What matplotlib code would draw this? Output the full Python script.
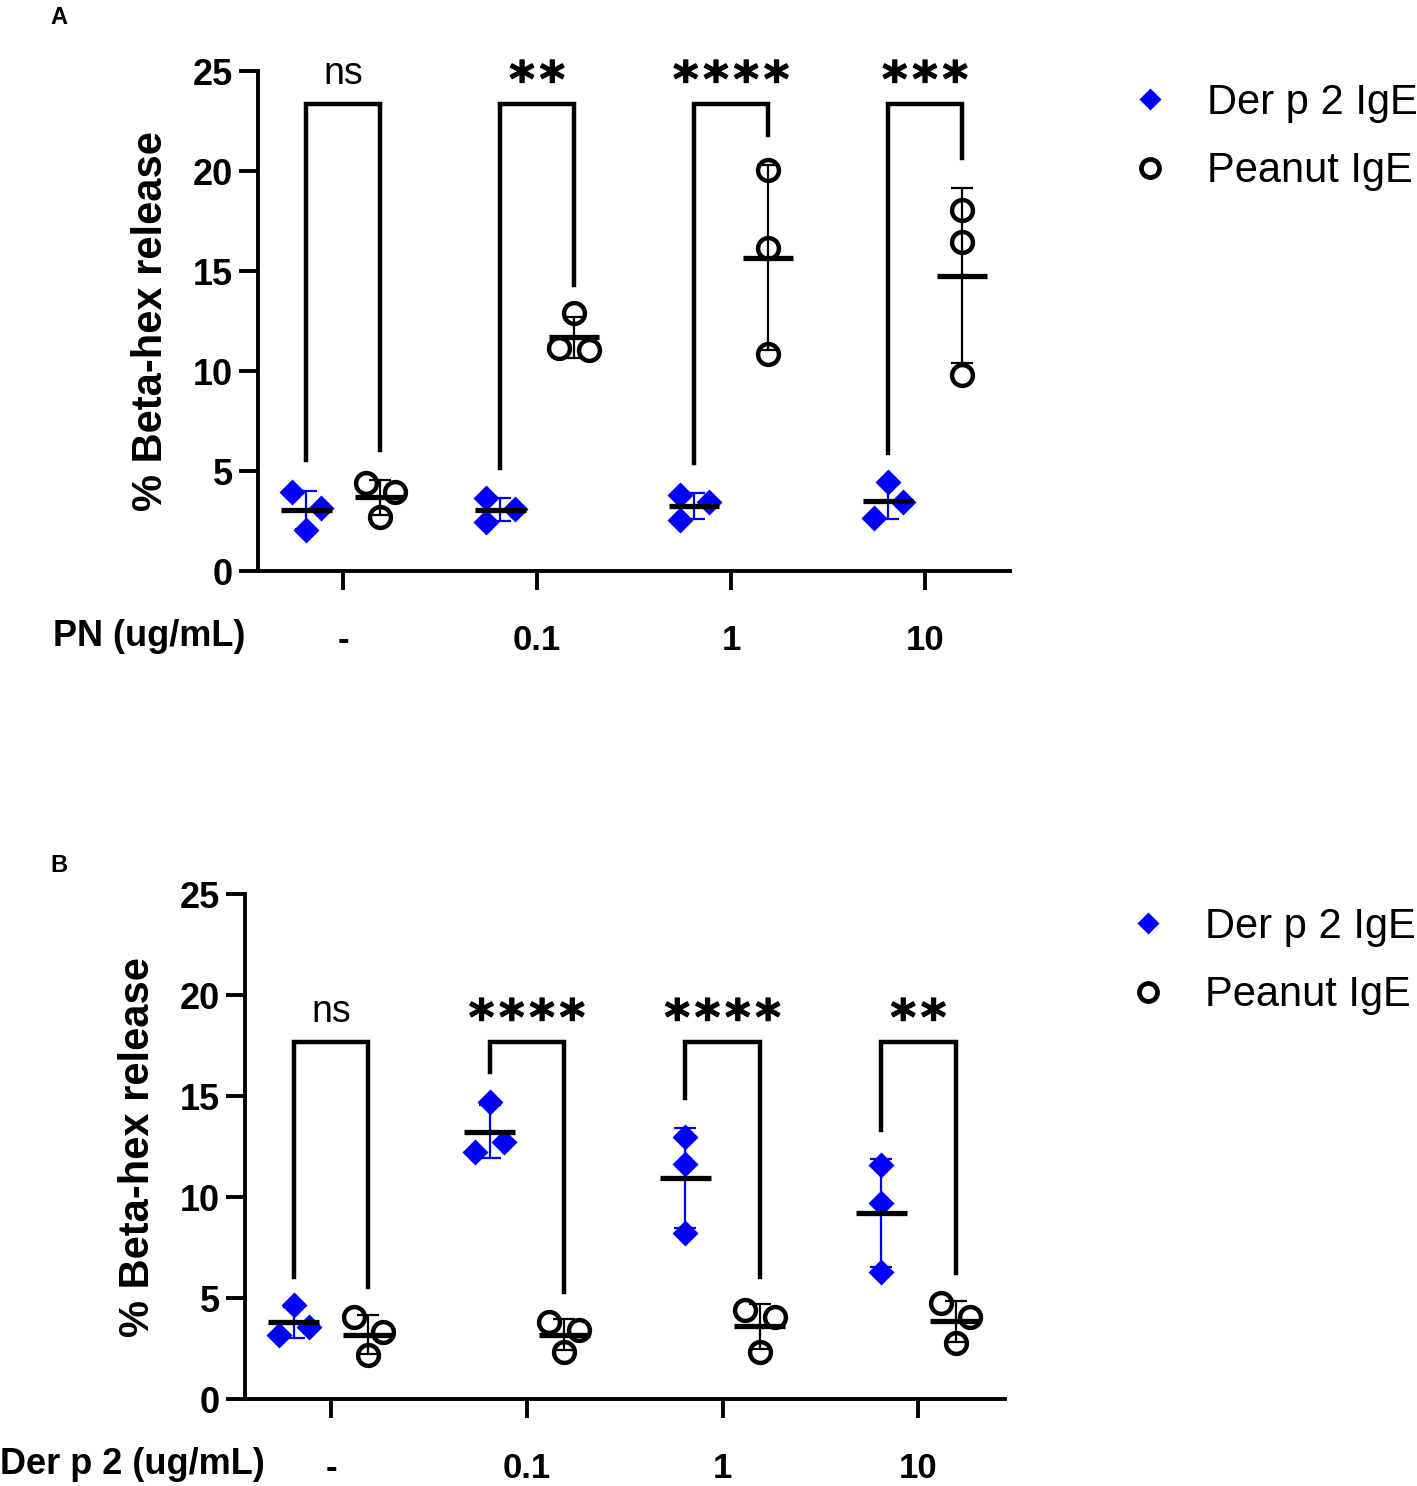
import numpy as np
import matplotlib
matplotlib.use('Agg')
import matplotlib.pyplot as plt
import matplotlib.patheffects as pe
from matplotlib.lines import Line2D

plt.rcParams['font.family'] = ['Liberation Sans', 'DejaVu Sans']

#%% data -------------------------------------------------------------------
doses = ['-', '0.1', '1', '10']

# panel A: PN stimulation
a_derp2 = [[3.97, 3.13, 2.05], [3.63, 3.08, 2.47], [3.80, 3.47, 2.55], [4.47, 3.47, 2.63]]
a_peanut = [[4.38, 3.97, 2.72], [12.88, 11.13, 11.05], [20.05, 16.13, 10.85], [18.05, 16.43, 9.80]]
a_sig = ['ns', '**', '****', '***']
a_bracket_top = 23.35
a_legs = [[5.55, 6.05], [5.15, 14.3], [5.4, 21.8], [5.9, 20.65]]

# panel B: Der p 2 stimulation
b_derp2 = [[4.65, 3.58, 3.17], [14.72, 12.74, 12.24], [12.99, 11.63, 8.20], [11.58, 9.72, 6.30]]
b_peanut = [[4.07, 3.33, 2.18], [3.83, 3.42, 2.34], [4.40, 4.07, 2.34], [4.74, 4.04, 2.76]]
b_sig = ['ns', '****', '****', '**']
b_bracket_top = 17.67
b_legs = [[6.05, 5.53], [16.2, 5.31], [14.93, 6.05], [13.3, 6.25]]

# horizontal scatter of the replicate points (-1 left, 0 centre, 1 right)
a_jit_d = [[-1, 1, 0], [-1, 1, -1], [-1, 1, -1], [0, 1, -1]]
a_jit_p = [[-1, 1, 0], [0, -1, 1], [0, 0, 0], [0, 0, 0]]
b_jit_d = [[0, 1, -1], [0, 1, -1], [0, 0, 0], [0, 0, 0]]
b_jit_p = [[-1, 1, 0], [-1, 1, 0], [-1, 1, 0], [-1, 1, 0]]

blue = '#0000ff'
off = 0.19      # group offset
jw = 0.075      # jitter width
mw = 0.13       # half width of mean bar


def panel(ax, derp2, peanut, jd, jp, sig, top, legs, xname, xname_pos):
    x = np.arange(len(doses))
    for i in x:
        for vals, jit, xc, col in [(derp2[i], jd[i], i - off, blue),
                                   (peanut[i], jp[i], i + off, 'k')]:
            vals = np.array(vals)
            m, s = vals.mean(), vals.std(ddof=1)
            if col == blue:
                ax.plot(xc + np.array(jit) * jw, vals, 'D', color=blue, ms=13.5,
                        mec='none', zorder=3)
            else:
                ax.plot(xc + np.array(jit) * jw, vals, 'o', mfc='none', mec='k',
                        mew=3.2, ms=15, zorder=3)
            ax.errorbar(xc, m, yerr=s, color=col, lw=1.6, capsize=8,
                        capthick=1.6, zorder=4)
            ax.hlines(m, xc - mw, xc + mw, color='k', lw=3.8, zorder=5)
        # significance bracket
        ax.plot([i - off, i - off, i + off, i + off],
                [legs[i][0], top, top, legs[i][1]], color='k', lw=3.2,
                solid_joinstyle='miter', zorder=2)
        if sig[i] == 'ns':
            ax.text(i, top + 1.0, sig[i], ha='center', va='baseline',
                    fontsize=27)
        else:
            ax.text(i, top + 0.4, '\u200a'.join(sig[i]), ha='center',
                    va='baseline', fontsize=35, fontweight='bold',
                    family=['DejaVu Sans', 'Liberation Sans'],
                    path_effects=[pe.withStroke(linewidth=0.9, foreground='k')])

    ax.set_xlim(-0.44, 3.44)
    ax.set_ylim(0, 25)
    ax.set_yticks([0, 5, 10, 15, 20, 25])
    ax.set_xticks(x)
    ax.set_xticklabels(doses)
    for lab in ax.get_xticklabels() + ax.get_yticklabels():
        lab.set_fontweight('bold')
    ax.tick_params(axis='y', labelsize=26, length=14, width=2.8, pad=4)
    ax.tick_params(axis='x', labelsize=25, length=14, width=2.8, pad=24)
    for sp in ['top', 'right']:
        ax.spines[sp].set_visible(False)
    for sp in ['left', 'bottom']:
        ax.spines[sp].set_linewidth(2.8)
    ax.set_ylabel('% Beta-hex release', fontsize=30, fontweight='bold')
    ax.yaxis.set_label_coords(-0.115, 0.5)
    fig.text(xname_pos[0], xname_pos[1], xname, fontsize=26,
             fontweight='bold', ha='left', va='center')


fig = plt.figure(figsize=(14.17, 14.86), dpi=100)
ax1 = fig.add_axes([0.182, 0.6157, 0.531, 0.3365])
ax2 = fig.add_axes([0.1729, 0.0585, 0.536, 0.3398])

panel(ax1, a_derp2, a_peanut, a_jit_d, a_jit_p, a_sig, a_bracket_top, a_legs,
      'PN (ug/mL)', (53 / 1417, 1 - 637 / 1486))
panel(ax2, b_derp2, b_peanut, b_jit_d, b_jit_p, b_sig, b_bracket_top, b_legs,
      'Der p 2 (ug/mL)', (0.0, 1 - 1465 / 1486))

fig.text(50 / 1417, 1 - 17 / 1486, 'A', fontsize=17, fontweight='bold', va='center')
fig.text(50 / 1417, 1 - 865 / 1486, 'B', fontsize=17, fontweight='bold', va='center')

handles = [Line2D([], [], ls='none', marker='D', color=blue, mec='none', ms=11),
           Line2D([], [], ls='none', marker='o', mfc='none', mec='k', mew=3.4, ms=13)]
names = ['Der p 2 IgE', 'Peanut IgE']
for anchor in [(1129 / 1417, 1 - 83 / 1486), (1127 / 1417, 1 - 907 / 1486)]:
    fig.legend(handles, names, loc='upper left', bbox_to_anchor=anchor,
               frameon=False, fontsize=30, handletextpad=0.87, labelspacing=0.68,
               handlelength=1.0, borderaxespad=0, borderpad=0)

fig.savefig('out.png', dpi=100, facecolor='w')
